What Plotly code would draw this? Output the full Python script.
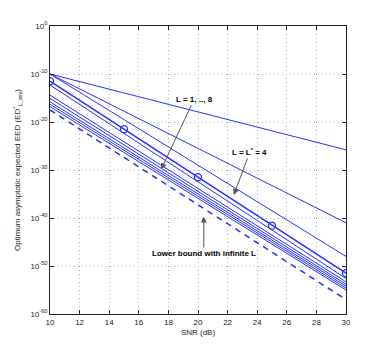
import plotly.graph_objects as go

# SNR grid (dB)
snr_ends = [10, 30]
snr_marks = [10, 15, 20, 25, 30]

# EED per number of layers L (value at 10 dB and 30 dB)
eed_L1 = [1e-10, 10 ** -25.8]
eed_L2 = [1e-10, 1e-41]
eed_L3 = [1e-10, 1e-48]
eed_cluster = [
    [10 ** -12.3, 10 ** -52.6],
    [10 ** -14.4, 10 ** -53.3],
    [10 ** -15.1, 10 ** -53.8],
    [10 ** -15.8, 10 ** -54.2],
    [10 ** -16.3, 10 ** -54.6],
    [10 ** -16.8, 10 ** -55.0],
]
# optimum L* = 4 curve, marked every 5 dB
eed_opt = [10 ** -11.5, 10 ** -21.5, 10 ** -31.5, 10 ** -41.6, 10 ** -51.5]
# lower bound with infinite L
eed_bound = [10 ** -17.5, 10 ** -57.0]

ytick_exp = [0, -10, -20, -30, -40, -50, -60]
xtick_vals = [10, 12, 14, 16, 18, 20, 22, 24, 26, 28, 30]

BLUE = "#2233ff"
FONT = "Liberation Sans, Arial"

fig = go.Figure()
for ys in [eed_L1, eed_L2, eed_L3] + eed_cluster:
    fig.add_trace(go.Scatter(x=snr_ends, y=ys, mode="lines",
                             line=dict(color=BLUE, width=1)))
fig.add_trace(go.Scatter(x=snr_marks, y=eed_opt, mode="lines+markers",
                         line=dict(color=BLUE, width=1.5),
                         marker=dict(symbol="circle-open", size=7,
                                     color=BLUE, line=dict(width=1.3))))
fig.add_trace(go.Scatter(x=snr_ends, y=eed_bound, mode="lines",
                         line=dict(color=BLUE, width=1.5, dash="6px,5px")))

axis_common = dict(
    showline=True, linecolor="#222", linewidth=1, mirror="ticks",
    ticks="inside", ticklen=4, tickcolor="#222",
    showgrid=True, gridcolor="#b0b0b0", griddash="1px,3px", gridwidth=1,
    zeroline=False, automargin=False,
    tickfont=dict(family=FONT, size=8, color="#222"),
)

fig.update_xaxes(
    range=[10, 30], tickvals=xtick_vals,
    title=dict(text="SNR (dB)", standoff=3,
               font=dict(family=FONT, size=8, color="#222")),
    **axis_common,
)
fig.update_yaxes(
    type="log", range=[-60, 0],
    tickvals=[10 ** e for e in ytick_exp],
    ticktext=[f"10<sup>{e}</sup>" for e in ytick_exp],
    title=dict(text="Optimum asymptotic expected EED (ED<sup>*</sup><sub>L_asy</sub>)",
               standoff=8,
               font=dict(family=FONT, size=8, color="#222")),
    **axis_common,
)

ann_font = dict(family=FONT, size=8, color="black")
fig.add_annotation(x=17.51, y=-29.85, text="<b>L = 1, .., 8</b>",
                   ax=33, ay=-70, showarrow=True, arrowhead=2, arrowsize=1.2,
                   arrowwidth=1, arrowcolor="#555", font=ann_font)
fig.add_annotation(x=22.42, y=-35.2, text="<b>L = L<sup>*</sup> = 4</b>",
                   ax=16, ay=-43, showarrow=True, arrowhead=2, arrowsize=1.2,
                   arrowwidth=1, arrowcolor="#555", font=ann_font)
fig.add_annotation(x=20.39, y=-39.7, text="<b>Lower bound with infinite L</b>",
                   ax=0, ay=37, showarrow=True, arrowhead=2, arrowsize=1.2,
                   arrowwidth=1, arrowcolor="#555", font=ann_font)

# the page adds an 8 px body margin, so the figure is sized to fit inside it
fig.update_layout(
    width=374, height=346,
    margin=dict(l=42, r=36, t=18, b=40),
    paper_bgcolor="white", plot_bgcolor="white",
    showlegend=False,
)

fig.write_html("out.html")
